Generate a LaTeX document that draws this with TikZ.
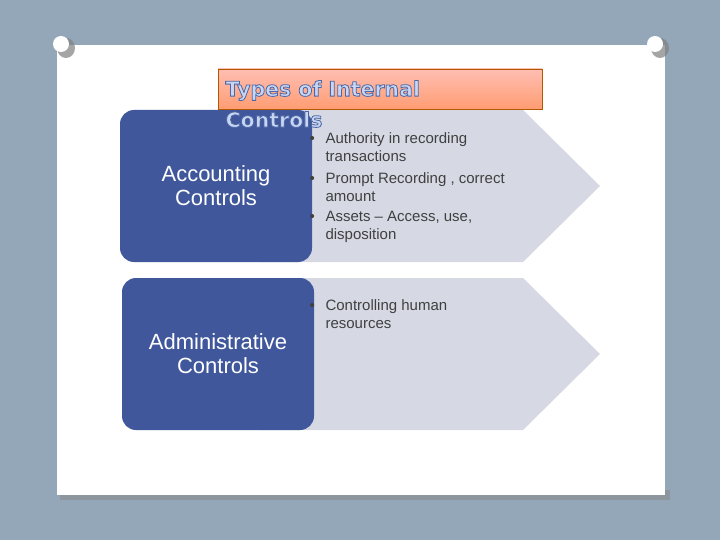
\documentclass[tikz,border=0pt]{standalone}
\usepackage{fontspec}
\setmainfont{Liberation Sans}
\newfontfamily\titlefont{DejaVu Sans}
\begin{document}
\begin{tikzpicture}[x=1pt,y=-1pt,
  btxt/.style={text=white,font=\fontsize{22}{24}\selectfont,align=center},
  bul/.style={text=black!75,font=\fontsize{15}{18}\selectfont,anchor=north west,align=left}]
\definecolor{bg}{HTML}{93A7B8}
\definecolor{arrgray}{HTML}{D6D9E4}
\definecolor{bluebox}{HTML}{40579C}
\definecolor{titlefill}{HTML}{C9D6F2}
\useasboundingbox (0,0) rectangle (720,540);
\fill[bg] (0,0) rectangle (720,540);
\fill[black!45,opacity=0.6] (60,490) rectangle (670,500);
\fill[white] (57,45) rectangle (665,495);
% pins
\foreach \px/\py in {63/50,657/50} {
  \fill[black!50,opacity=0.7] (\px+3,\py-2) ellipse (9 and 10);
  \fill[white] (\px-2,\py-6) circle (8);
}
% arrows
\fill[arrgray] (260,110) -- (523,110) -- (600,186) -- (523,262) -- (260,262) -- cycle;
\fill[arrgray] (260,278) -- (523,278) -- (600,354) -- (523,430) -- (260,430) -- cycle;
\fill[bluebox,rounded corners=14pt] (120,110) rectangle (312,262);
\fill[bluebox,rounded corners=14pt] (122,278) rectangle (314,430);
\node[btxt] (acc) at (216,186) {Accounting\\Controls};
\node[btxt] (adm) at (218,354) {Administrative\\Controls};
\newcommand\bb[2]{\makebox[16pt][l]{\textbullet}#1\\\hspace*{16pt}#2}
\node[bul] (b1) at (306,129) {\bb{Authority in recording}{transactions}};
\node[bul] (b2) at (306,169) {\bb{Prompt Recording , correct}{amount}};
\node[bul] (b3) at (306,208) {\bb{Assets -- Access, use,}{disposition}};
\node[bul] (b4) at (306,296) {\bb{Controlling human}{resources}};
% title
\shade[top color=orange!30!red!30, bottom color=orange!60!red!55,draw=orange!70!black] (218,69) rectangle (542,109);
\node[anchor=west,font=\titlefont\bfseries\fontsize{20.5}{31}\selectfont,text=titlefill,align=left] (title) at (222,104)
  {\special{pdf:literal direct 2 Tr 0.3 0.4 0.65 RG 0.8 w}Types of Internal\\Controls\special{pdf:literal direct 0 Tr}};
\end{tikzpicture}
\end{document}
